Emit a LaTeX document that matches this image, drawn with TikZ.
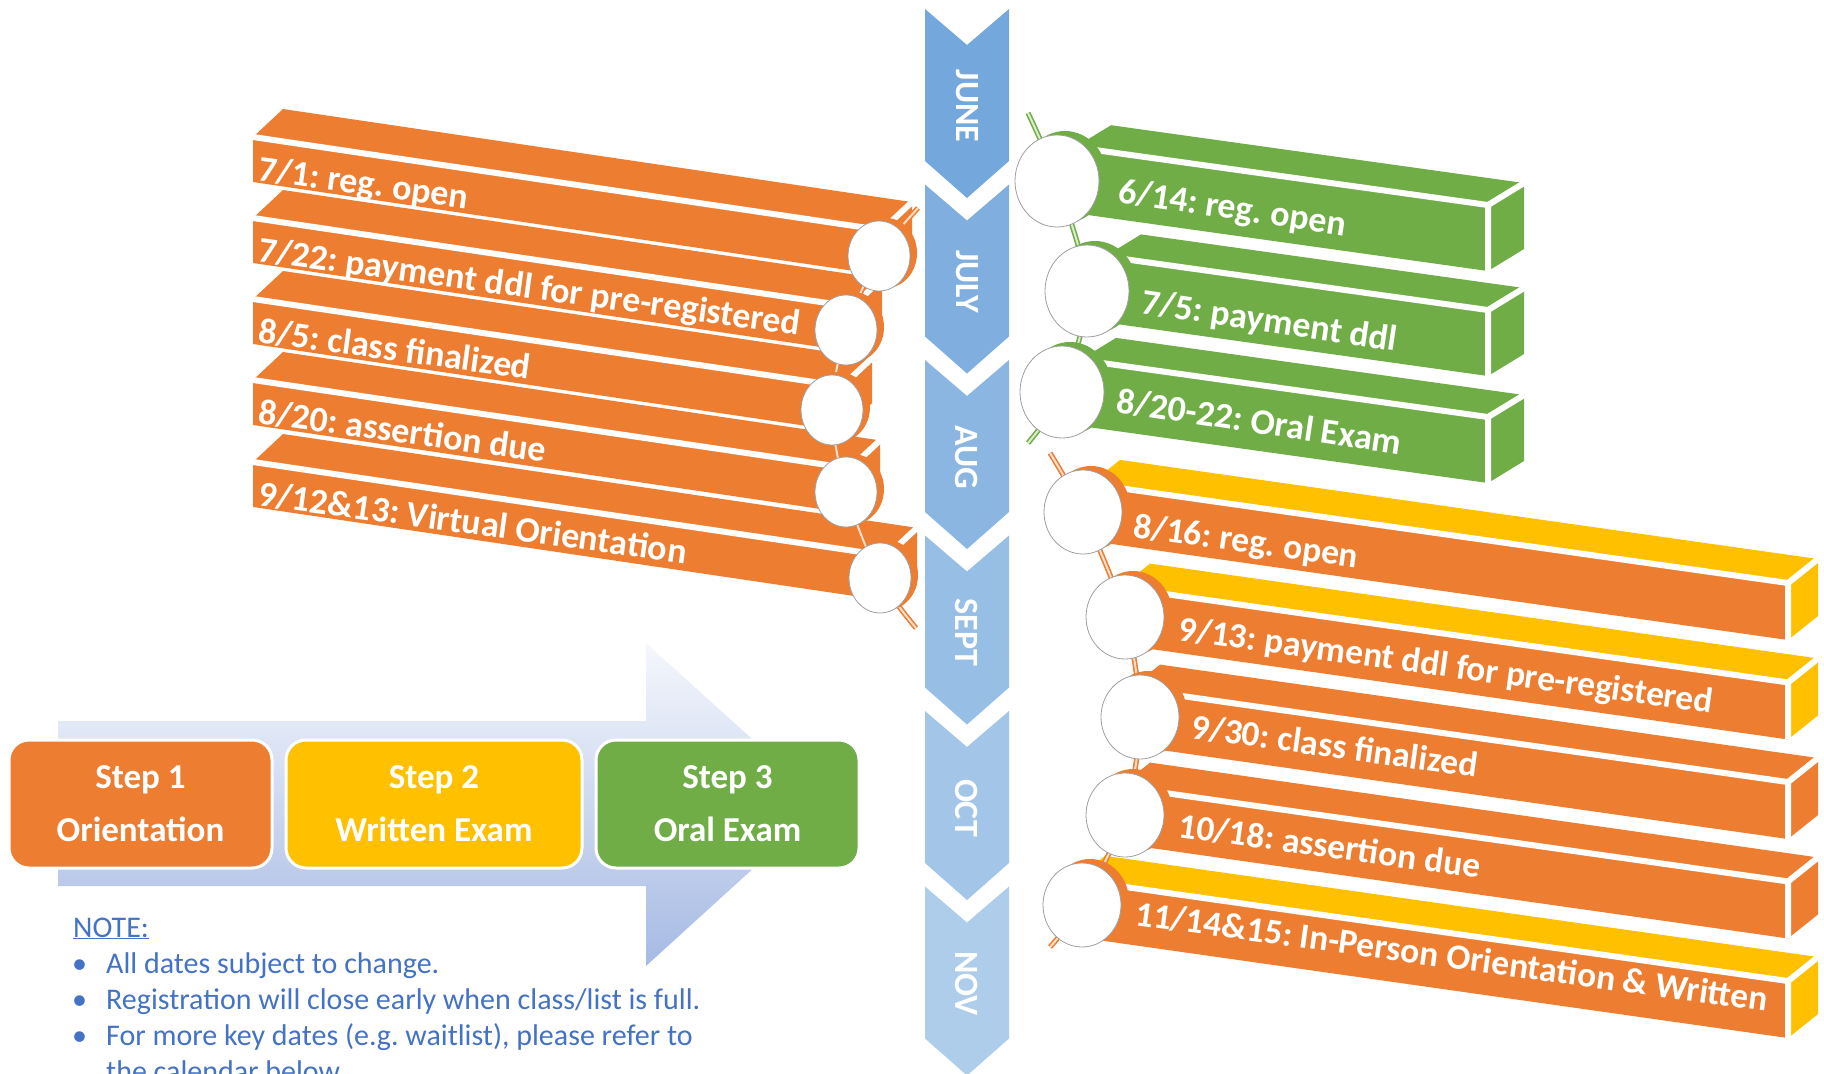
\documentclass[tikz,border=0pt]{standalone}
\usepackage{fontspec}
\setmainfont{Carlito}
\frenchspacing
\usetikzlibrary{calc,shapes.geometric}

\definecolor{barorange}{HTML}{ED7D31}
\definecolor{baryellow}{HTML}{FFC000}
\definecolor{bargreen}{HTML}{70AD47}
\definecolor{chevtop}{HTML}{74A7DC}
\definecolor{chevbot}{HTML}{AECDEB}
\definecolor{notefg}{HTML}{4472C4}
\definecolor{arrowtop}{HTML}{F5F7FC}
\definecolor{arrowbot}{HTML}{A6BAE4}

\tikzset{
  bartext/.style={text=white, font=\bfseries\fontsize{36}{36}\selectfont, inner sep=0pt, anchor=base west},
  smalltext/.style={bartext, font=\bfseries\fontsize{35.5}{36}\selectfont},
  monthlbl/.style={text=white, font=\bfseries\fontsize{34}{34}\selectfont, rotate=-90, inner sep=0pt},
  stepbox/.style={draw=white, line width=3pt, rounded corners=20pt, minimum height=128pt, text=white, align=center, font=\bfseries\fontsize{35}{53}\selectfont},
  notetext/.style={text=notefg, font=\fontsize{30}{30}\selectfont, inner sep=0pt, anchor=base west},
  disc/.style={ellipse, fill=white, draw=gray!75, line width=0.8pt, inner sep=0pt},
  rod/.style={draw=#1, line width=1.6pt, double=#1!25, double distance=2pt}
}

% slanted 3d bar: name, left x, top y at left, right x, height, front colour, top colour
\newcommand{\sbar}[7]{%
  \coordinate (#1-tl) at (#2,#3);
  \coordinate (#1-tr) at (#4,{#3+\bslope*(#4-#2)});
  \coordinate (#1-bl) at (#2,{#3+#5});
  \coordinate (#1-br) at (#4,{#3+#5+\bslope*(#4-#2)});
  \fill[#7] (#1-tl) -- (#1-tr) -- ($(#1-tr)+(\bdx,\bdy)$) -- ($(#1-tl)+(\bdx,\bdy)$) -- cycle;
  \fill[#7] (#1-tr) -- ($(#1-tr)+(\bdx,\bdy)$) -- ($(#1-br)+(\bdx,\bdy)$) -- (#1-br) -- cycle;
  \fill[#6] (#1-tl) -- (#1-tr) -- (#1-br) -- (#1-bl) -- cycle;
  \draw[white, line width=6pt] (#1-tl) -- (#1-tr) -- (#1-br) (#1-tr) -- ($(#1-tr)+(\bdx,\bdy)$);
}

\begin{document}
\begin{tikzpicture}[x=1pt,y=-1pt]
  \useasboundingbox (0,0) rectangle (1824,1074);
  \clip (0,0) rectangle (1824,1074);

  % steps
  \shade[top color=arrowtop, bottom color=arrowbot] (58,721) -- (646,721) -- (646,643) -- (824,804)
    -- (646,966) -- (646,886) -- (58,886) -- cycle;
  \node[stepbox, fill=barorange, minimum width=263pt] (step1) at (140.5,804) {Step 1\\Orientation};
  \node[stepbox, fill=baryellow, minimum width=296pt] (step2) at (434,804) {Step 2\\Written Exam};
  \node[stepbox, fill=bargreen, minimum width=263pt] (step3) at (727.5,804) {Step 3\\Oral Exam};

  \node[notetext] (note0) at (73,937) {\underline{NOTE:}};
  \node[notetext] (note1) at (72,973) {\makebox[34pt][l]{\textbullet}All dates subject to change.};
  \node[notetext] (note2) at (72,1009) {\makebox[34pt][l]{\textbullet}Registration will close early when class/list is full.};
  \node[notetext] (note3) at (72,1045) {\makebox[34pt][l]{\textbullet}For more key dates (e.g. waitlist), please refer to};
  \node[notetext] (note4) at (72,1081) {\makebox[34pt][l]{}the calendar below.};

  % months
  \foreach \mon [count=\k from 0] in {JUNE,JULY,AUG,SEPT,OCT,NOV}{
    \pgfmathsetmacro{\ytop}{9+175.5*\k}
    \pgfmathtruncatemacro{\mix}{100-20*\k}
    \fill[chevtop!\mix!chevbot] (925,\ytop) -- (967,\ytop+36) -- (1009,\ytop) -- (1009,\ytop+152)
      -- (967,\ytop+189) -- (925,\ytop+152) -- cycle;
    \node[monthlbl] (mon\k) at (967,\ytop+97) {\mon};
  }

  % left bars
  \def\bslope{0.148}\def\bdx{30}\def\bdy{-28}
  \sbar{lb1}{253}{137}{882}{45}{barorange}{barorange}
  \sbar{lb2}{253}{218}{852}{45}{barorange}{barorange}
  \sbar{lb3}{253}{299}{842}{45}{barorange}{barorange}
  \sbar{lb4}{253}{380}{850}{45}{barorange}{barorange}
  \sbar{lb5}{253}{462}{887}{45}{barorange}{barorange}

  % green bars
  \def\bslope{0.14}\def\bdx{36}\def\bdy{-22}
  \sbar{gb1}{1075}{147.2}{1488}{66}{bargreen}{bargreen}
  \sbar{gb2}{1105}{256.4}{1488}{66}{bargreen}{bargreen}
  \sbar{gb3}{1080}{359.9}{1488}{66}{bargreen}{bargreen}

  % right orange bars
  \def\bslope{0.142}\def\bdx{30}\def\bdy{-24}
  \sbar{ob1}{1090}{483.9}{1788}{57}{barorange}{baryellow}
  \sbar{ob2}{1120}{587.6}{1788}{57}{barorange}{baryellow}
  \sbar{ob3}{1130}{688.6}{1788}{57}{barorange}{barorange}
  \sbar{ob4}{1120}{786.6}{1788}{57}{barorange}{barorange}
  \sbar{ob5}{1075}{879.8}{1788}{57}{barorange}{baryellow}

  \node[bartext, rotate=-7.8] (lt1) at (257,180) {7/1: reg. open};
  \node[bartext, rotate=-7.8] (lt2) at (257,261) {7/22: payment ddl for pre-registered};
  \node[bartext, rotate=-7.8] (lt3) at (257,342) {8/5: class finalized};
  \node[bartext, rotate=-7.8] (lt4) at (257,423) {8/20: assertion due};
  \node[bartext, rotate=-7.8] (lt5) at (257,505) {9/12\&13: Virtual Orientation};
  \node[bartext, rotate=-8.5] (gt1) at (1117,202) {6/14: reg. open};
  \node[bartext, rotate=-8.5] (gt2) at (1140,313) {7/5: payment ddl};
  \node[bartext, rotate=-8.5] (gt3) at (1115,412) {8/20-22: Oral Exam};
  \node[smalltext, rotate=-7.8] (ot1) at (1132,537) {8/16: reg. open};
  \node[smalltext, rotate=-7.8] (ot2) at (1177,640) {9/13: payment ddl for pre-registered};
  \node[smalltext, rotate=-7.8] (ot3) at (1190,738) {9/30: class finalized};
  \node[smalltext, rotate=-7.8] (ot4) at (1177,837) {10/18: assertion due};
  \node[smalltext, rotate=-7.8] (ot5) at (1134,925) {11/14\&15: In-Person Orientation \& Written};

  % rods and discs
  \coordinate (lrtop) at (918,208);
  \coordinate (lrbot) at (916,628);
  \foreach \n/\px/\py in {1/879/256,2/846/330,3/832/410,4/846/492,5/880/578}
    \coordinate (lp\n) at (\px,\py);
  \coordinate (grtop) at (1028,113);
  \coordinate (grbot) at (1028,443);
  \foreach \n/\px/\py in {1/1057/181,2/1087/291,3/1062/392}
    \coordinate (gp\n) at (\px,\py);
  \coordinate (ortop) at (1050,453);
  \coordinate (orbot) at (1050,947);
  \foreach \n/\px/\py in {1/1083/512,2/1125/617,3/1140/717,4/1125/815,5/1082/905}
    \coordinate (op\n) at (\px,\py);

  \draw[rod=barorange] plot[smooth] coordinates {(lrtop) (lp1) (lp2) (lp3) (lp4) (lp5) (lrbot)};
  \draw[rod=bargreen] plot[smooth] coordinates {(grtop) (gp1) (gp2) (gp3) (grbot)};
  \draw[rod=barorange] plot[smooth] coordinates {(ortop) (op1) (op2) (op3) (op4) (op5) (orbot)};

  \foreach \n in {1,...,5}{
    \fill[barorange] ($(lp\n)+(7,-3)$) ellipse [x radius=31pt, y radius=35pt];
    \node[disc, minimum width=62pt, minimum height=70pt] (ld\n) at (lp\n) {};
  }
  \foreach \n in {1,2,3}{
    \fill[bargreen] ($(gp\n)+(8,-4)$) ellipse [x radius=42pt, y radius=46pt];
    \node[disc, minimum width=84pt, minimum height=92pt] (gd\n) at (gp\n) {};
  }
  \foreach \n in {1,...,5}{
    \fill[barorange] ($(op\n)+(8,-4)$) ellipse [x radius=39pt, y radius=42pt];
    \node[disc, minimum width=78pt, minimum height=84pt] (od\n) at (op\n) {};
  }
\end{tikzpicture}
\end{document}
